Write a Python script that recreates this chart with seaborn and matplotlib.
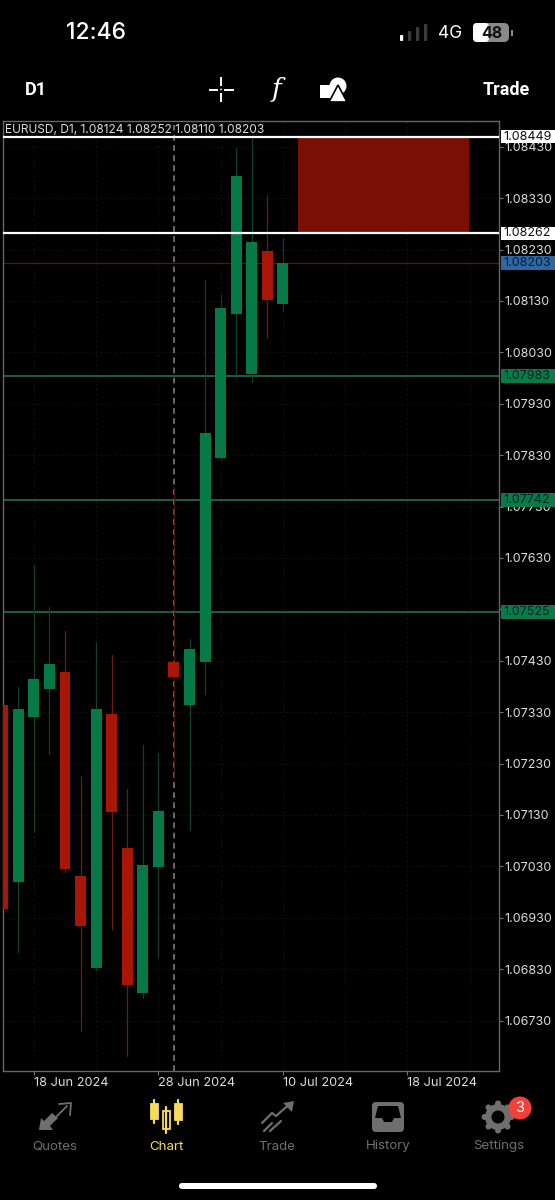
import numpy as np
import pandas as pd
import matplotlib
matplotlib.use("Agg")
import matplotlib.pyplot as plt
from matplotlib.patches import Rectangle, Polygon, Circle, FancyBboxPatch
import seaborn as sns

# ---- data ----
candle = list(range(19))
opens = [1.07344,1.06999,1.07320,1.07375,1.07408,1.07011,1.06832,1.07326,1.07065,1.06784,
         1.07028,1.07428,1.07344,1.07427,1.07824,1.08104,1.07988,1.08227,1.08124]
highs = [1.07344,1.07379,1.07616,1.07534,1.07488,1.07206,1.07466,1.07441,1.07180,1.07266,
         1.07250,1.07768,1.07472,1.08171,1.08141,1.08427,1.08447,1.08336,1.08252]
lows  = [1.06947,1.06864,1.07097,1.07248,1.07019,1.06710,1.06828,1.06908,1.06661,1.06774,
         1.06854,1.07202,1.07100,1.07365,1.07820,1.07986,1.07973,1.08058,1.08110]
closes= [1.06947,1.07336,1.07395,1.07423,1.07025,1.06914,1.07336,1.07135,1.06799,1.07032,
         1.07137,1.07398,1.07453,1.07873,1.08117,1.08373,1.08245,1.08132,1.08203]
price_ticks = [1.08430,1.08330,1.08230,1.08130,1.08030,1.07930,1.07830,1.07730,1.07630,
               1.07530,1.07430,1.07330,1.07230,1.07130,1.07030,1.06930,1.06830,1.06730]
date_pos = [2,10,18,26]
date_labels = ["18 Jun 2024","28 Jun 2024","10 Jul 2024","18 Jul 2024"]
grid_pos = [2,6,10,14,18,22,26,30]
white_levels = [1.08449,1.08262]
green_levels = [1.07983,1.07742,1.07525]
last_price = 1.08203
zone_x = [19.0,29.96]
zone_y = [1.08262,1.08449]
separator = 11
title = "EURUSD, D1, 1.08124 1.08252 1.08110 1.08203"

GREEN, RED = "#057a47", "#a81608"
GREEN_W, RED_W, DIM_W = "#123f2a", "#6e1a0f", "#4a1a12"
LEVEL = "#26775a"
TXT = "#dcdcdc"
GREY = "#6f6f6f"
YEL = "#f6dc5c"

sns.set_theme(style="dark", rc={"figure.facecolor":"black","axes.facecolor":"black"})
plt.rcParams["font.family"] = ["Inter","DejaVu Sans"]

df = pd.DataFrame(dict(candle=candle,o=opens,h=highs,l=lows,c=closes))
df["up"] = df.c >= df.o
df["bottom"] = df[["o","c"]].min(axis=1)
df["size"] = (df.c-df.o).abs()
wicks = df.melt(id_vars=["candle","up"],value_vars=["h","l"],value_name="price").sort_values(["candle","variable"])

fig = plt.figure(figsize=(5.55,12),dpi=100,facecolor="black")
ax = fig.add_axes([3/555,1-1071/1200,496/555,950/1200])
ax.set_facecolor("black")

# levels and zone under the candles
ax.axhline(last_price,color="#5e130b",lw=0.9,zorder=1)
for v in green_levels:
    ax.axhline(v,color=LEVEL,lw=1.1,zorder=1)
ax.axvline(separator,color="#707070",lw=1.3,ls=(0,(3.2,2.4)),zorder=1)
ax.fill_between(zone_x,zone_y[0],zone_y[1],color="#7a0f05",lw=0,zorder=1)

groups = ((wicks.up,GREEN_W),((~wicks.up)&(wicks.candle!=separator),RED_W),(wicks.candle==separator,DIM_W))
for mask,col in groups:
    sns.lineplot(data=wicks[mask],x="candle",y="price",units="candle",estimator=None,
                 color=col,lw=0.9,legend=False,ax=ax,zorder=2,sort=False)
for flag,col in ((True,GREEN),(False,RED)):
    sub = df[df.up==flag]
    sns.barplot(x=sub.candle.values,y=sub["size"].values,bottom=sub["bottom"].values,
                native_scale=True,width=0.7,color=col,saturation=1,linewidth=0,ax=ax,zorder=3)

for v in white_levels:
    ax.axhline(v,color="white",lw=1.6,zorder=4)

ax.set_xlim(0.02,31.88)
ax.set_ylim(1.06632,1.08480)
ax.set_xlabel(""); ax.set_ylabel("")
ax.yaxis.tick_right()
ax.set_yticks(price_ticks,[f"{v:.5f}" for v in price_ticks])
ax.set_xticks(date_pos,date_labels,ha="left")
ax.tick_params(axis="y",length=3,width=0.8,color="#777777",labelcolor=TXT,labelsize=9,pad=1,right=True,left=False)
ax.tick_params(axis="x",length=3,width=0.8,color="#777777",labelcolor=TXT,labelsize=9.2,pad=1.5,bottom=True)
for s in ax.spines.values():
    s.set_visible(True); s.set_color("#666666"); s.set_linewidth(1)
ax.set_axisbelow(True)
ax.grid(False)
for p in price_ticks:
    ax.axhline(p,color="#131313",lw=0.7,ls=(0,(2,3)),zorder=0.5)
for p in grid_pos:
    ax.axvline(p,color="#131313",lw=0.7,ls=(0,(2,3)),zorder=0.5)

# overlay in pixel coordinates for the app chrome and price tags
ov = fig.add_axes([0,0,1,1],zorder=10)
ov.set_xlim(0,555); ov.set_ylim(1200,0); ov.axis("off"); ov.patch.set_alpha(0)

def py(v):
    return 1200-ax.transData.transform((0,v))[1]

ov.text(5,130,title,color=TXT,fontsize=8.6,va="center",ha="left")

def tag(v,bg,fg,h=13):
    y = py(v)
    ov.add_patch(Rectangle((500.5,y-h/2),54.5,h,fc=bg,ec="none"))
    ov.text(503,y,f"{v:.5f}",color=fg,fontsize=9,va="center",ha="left")
for v in white_levels:
    tag(v,"white","#111111")
tag(last_price,"#2f67a3","#0c1c30",14)
for v in green_levels:
    tag(v,"#0a7a4c","#04291a",14)

# status bar
ov.text(96,33,"12:46",color="white",fontsize=16.5,va="center",ha="center",fontweight="medium")
for x,h,c in zip([400,408,416,424],[6,10,14,17],["white","#3a3a3a","#3a3a3a","#3a3a3a"]):
    ov.add_patch(FancyBboxPatch((x,41-h),3.2,h,boxstyle="round,pad=0,rounding_size=1",fc=c,ec="none"))
ov.text(450,33,"4G",color="white",fontsize=12.5,va="center",ha="center")
ov.add_patch(FancyBboxPatch((473,23),36,19,boxstyle="round,pad=0,rounding_size=5",fc="#8a8a8a",ec="none"))
ov.add_patch(FancyBboxPatch((473,23),16,19,boxstyle="round,pad=0,rounding_size=4",fc="white",ec="none"))
ov.add_patch(Rectangle((511,30),1.5,6,fc="#8a8a8a",ec="none"))
ov.text(491.5,33,"48",color="#111111",fontsize=11.5,va="center",ha="center",fontweight="bold")

# toolbar
ov.text(36,90,"D1",color="white",fontsize=13,va="center",ha="center",fontweight="bold",family="Roboto")
ov.text(506,90,"Trade",color="white",fontsize=13,va="center",ha="center",fontweight="bold",family="Roboto")
for a,b in (([209,218],[89.5,89.5]),([224,234],[89.5,89.5]),([221,221],[77,86]),([221,221],[93,102])):
    ov.plot(a,b,color="white",lw=1.4,solid_capstyle="butt")
ov.add_patch(Circle((221,89.5),0.9,fc="white",ec="none"))
ov.text(276,89,"f",color="white",fontsize=19,va="center",ha="center",style="italic",family="DejaVu Serif")
ov.add_patch(Rectangle((320,85),13,13,fc="white",ec="none"))
ov.add_patch(Circle((338,86),8.5,fc="white",ec="none"))
ov.add_patch(Polygon([[338,85],[347,102],[329,102]],closed=True,fc="white",ec="black",lw=1.2))

# tab bar
tabs = ["Quotes","Chart","Trade","History","Settings"]
tab_x = [55,166,277,388,499]
for t,x in zip(tabs,tab_x):
    ov.text(x,1146.5,t,color=YEL if t=="Chart" else GREY,fontsize=9.6,va="center",ha="center")

# quotes icon
ov.add_patch(Polygon([[39,1130],[41,1118],[44,1121],[52,1113],[58,1118],[50,1126],[53,1130]],fc=GREY,ec="none"))
ov.plot([54,67],[1119,1106],color=GREY,lw=1.3)
ov.plot([59,71,70],[1104,1103,1115],color=GREY,lw=1.3)
# chart icon
for x,t,b,filled in ((154,1100,1123,True),(166,1107,1133,False),(178,1100,1124,True)):
    ov.plot([x,x],[t,b],color=YEL,lw=1.6)
    ov.add_patch(Rectangle((x-3.5,t+4),7,b-t-8,fc=YEL if filled else "black",ec=YEL,lw=1.3))
# trade icon
ov.plot([262,272,276,285,291],[1123,1113,1116,1108,1104],color=GREY,lw=1.6)
ov.add_patch(Polygon([[294,1101],[283,1103],[292,1112]],fc=GREY,ec="none"))
for a,b in (([264,272],[1131,1123]),([270,281],[1131,1121])):
    ov.plot(a,b,color=GREY,lw=1.6)
# history icon
ov.add_patch(FancyBboxPatch((372,1102),32,30,boxstyle="round,pad=0,rounding_size=4",fc=GREY,ec="none"))
ov.add_patch(Polygon([[378,1106],[398,1106],[401,1118],[394,1118],[392,1122],[384,1122],[382,1118],[375,1118]],fc="black",ec="none"))
# settings icon
angles = ["0","45","90","135","180","225","270","315"]
for a in angles:
    r = np.deg2rad(float(a))
    ov.add_patch(Circle((498+13.5*np.cos(r),1117+13.5*np.sin(r)),3,fc=GREY,ec="none"))
ov.add_patch(Circle((498,1117),13,fc=GREY,ec="none"))
ov.add_patch(Circle((498,1117),6.5,fc="black",ec="none"))
ov.add_patch(Circle((520,1108),11.5,fc="#f2403a",ec="none"))
ov.text(520,1108,"3",color="white",fontsize=10.5,va="center",ha="center")
# home bar
ov.add_patch(FancyBboxPatch((179,1183),198,6,boxstyle="round,pad=0,rounding_size=3",fc="white",ec="none"))

fig.savefig("out.png",dpi=100,facecolor="black")
